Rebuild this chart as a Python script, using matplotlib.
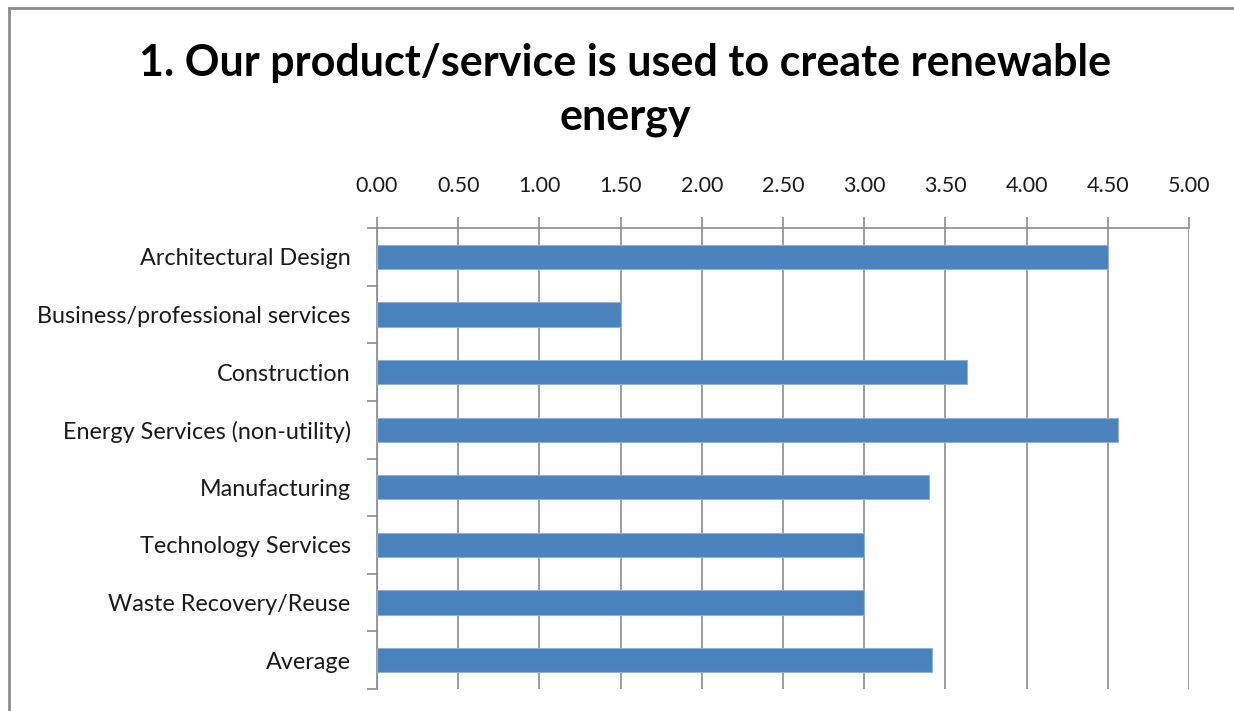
import matplotlib
matplotlib.use("Agg")
import matplotlib.pyplot as plt
from matplotlib.patches import Rectangle
from matplotlib.ticker import FixedLocator, NullFormatter
import numpy as np

categories = [
    "Architectural Design",
    "Business/professional services",
    "Construction",
    "Energy Services (non-utility)",
    "Manufacturing",
    "Technology Services",
    "Waste Recovery/Reuse",
    "Average",
]
values = [4.50, 1.50, 3.63, 4.56, 3.40, 3.00, 3.00, 3.42]
x_ticks = [0.0, 0.5, 1.0, 1.5, 2.0, 2.5, 3.0, 3.5, 4.0, 4.5, 5.0]
title = "1. Our product/service is used to create renewable\nenergy"

plt.rcParams["font.family"] = ["Lato", "DejaVu Sans"]

W, H = 1234, 711
fig = plt.figure(figsize=(W / 100, H / 100), dpi=100)
ax = fig.add_axes([377 / W, 1 - 689 / H, (1189 - 377) / W, (689 - 228) / H])

y = np.arange(len(categories))
ax.barh(y, values, height=0.42, color="#4a82bd", edgecolor="#8fb1d8", linewidth=0.8, zorder=3)

ax.set_xlim(0, 5)
ax.set_ylim(len(categories) - 0.5, -0.5)

ax.xaxis.tick_top()
ax.set_xticks(x_ticks)
ax.set_xticklabels([f"{t:.2f}" for t in x_ticks], fontsize=15.5, color="#1a1a1a")
ax.tick_params(axis="x", which="major", direction="out", length=8, width=1.2,
               color="#8c8c8c", pad=15)
ax.grid(axis="x", color="#8c8c8c", linewidth=1.2, zorder=0)

ax.set_yticks(y)
ax.set_yticklabels(categories, fontsize=16.8, color="#1a1a1a")
ax.tick_params(axis="y", which="major", length=0, pad=19)
ax.yaxis.set_minor_locator(FixedLocator(np.arange(-0.5, len(categories), 1.0)))
ax.yaxis.set_minor_formatter(NullFormatter())
ax.tick_params(axis="y", which="minor", direction="out", length=7, width=1.2, color="#8c8c8c")

for side in ("right", "bottom"):
    ax.spines[side].set_visible(False)
for side in ("left", "top"):
    ax.spines[side].set_color("#8c8c8c")
    ax.spines[side].set_linewidth(1.2)

fig.text(625 / W, 1 - 90 / H, title, ha="center", va="center", fontsize=31,
         fontweight="bold", linespacing=1.42)

# chart-area frame: left and top edges only fall inside the canvas
fig.patches.append(Rectangle((9 / W, -0.05), 1.1, 1 - 8 / H + 0.05,
                             transform=fig.transFigure, fill=False,
                             edgecolor="#8c8c8c", linewidth=2.0))

fig.savefig("out.png", dpi=100, facecolor="white")
